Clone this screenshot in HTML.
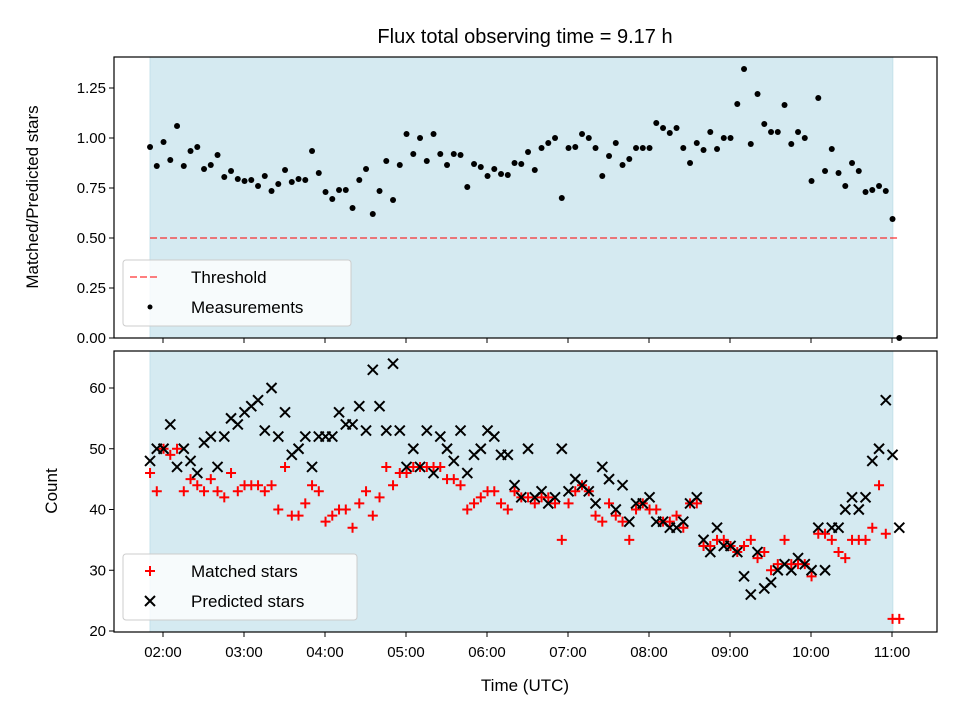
<!DOCTYPE html>
<html><head><meta charset="utf-8"><style>
body{margin:0;background:#fff;}
svg text{font-family:"Liberation Sans","DejaVu Sans",sans-serif;fill:#000;}
</style></head><body>
<svg id="chart" width="960" height="720" viewBox="0 0 960 720" xmlns="http://www.w3.org/2000/svg">
<rect width="960" height="720" fill="#fff"/>
<text x="525" y="43" font-size="20" text-anchor="middle">Flux total observing time = 9.17 h</text>
<g id="topPanel"></g>
<g id="botPanel"></g>
</svg>
<script>
const ratios=[0.955,0.86,0.98,0.89,1.06,0.86,0.935,0.955,0.845,0.865,0.915,0.805,0.835,0.795,0.785,0.79,0.76,0.81,0.735,0.77,0.84,0.78,0.795,0.79,0.935,0.825,0.73,0.695,0.74,0.74,0.65,0.79,0.845,0.62,0.735,0.885,0.69,0.865,1.02,
0.92,1.0,0.885,1.02,0.92,0.865,0.92,0.915,0.755,0.87,0.855,0.81,0.845,0.82,0.815,0.875,0.87,0.93,0.84,0.95,0.975,1.0,0.70,0.95,0.955,1.02,1.0,0.95,0.81,0.91,0.975,0.865,0.895,0.95,0.95,0.95,1.075,1.05,1.025,
1.05,0.95,0.875,0.975,0.94,1.03,0.945,1.0,1.0,1.17,1.345,0.97,1.22,1.07,1.03,1.03,1.165,0.97,1.03,1.0,0.785,1.2,0.835,0.945,0.825,0.76,0.875,0.835,0.73,0.74,0.76,0.735,0.595,0.0];
const matched=[46,43,50,49,50,43,45,44,43,45,43,42,46,43,44,44,44,43,44,40,47,39,39,41,44,43,38,39,40,40,37,41,43,39,42,47,44,46,46,47,47,47,47,47,45,45,44,40,41,42,43,43,41,40,43,42,42,41,42,42,41,35,41,43,44,43,39,38,41,39,38,35,40,41,40,40,38,38,39,37,41,41,34,34,35,35,34,33,34,35,32,33,30,31,35,31,31,31,29,36,36,35,33,32,35,35,35,37,44,36,22,22];
const predicted=[48,50,50,54,47,50,48,46,51,52,47,52,55,54,56,57,58,53,60,52,56,49,50,52,47,52,52,52,56,54,54,57,53,63,57,53,64,53,47,50,47,53,46,52,50,48,53,46,49,50,53,52,49,49,44,42,50,42,43,41,42,50,43,45,44,43,41,47,45,40,44,38,41,41,42,38,38,37,37,38,41,42,35,33,37,34,34,33,29,26,33,27,28,30,31,30,32,31,30,37,30,37,37,40,42,40,42,48,50,58,49,37];
const startHour=1.84, stepHour=5/60, threshold=0.5, obsStart=1.84, obsEnd=11.01;
const xTicks=["02:00","03:00","04:00","05:00","06:00","07:00","08:00","09:00","10:00","11:00"];
const xTickHours=[2,3,4,5,6,7,8,9,10,11];
const topTicks=[0,0.25,0.5,0.75,1.0,1.25];
const botTicks=[20,30,40,50,60];

const NS="http://www.w3.org/2000/svg";
const L=114,R=937;
const X=h=>163+(h-2)*81;
const Yt=v=>338-v*200;
const Yb=v=>631-(v-20)*6.075;
function mk(p,tag,a){const e=document.createElementNS(NS,tag);for(const k in a)e.setAttribute(k,a[k]);p.appendChild(e);return e;}
const topG=document.getElementById('topPanel'),botG=document.getElementById('botPanel');

function panel(g,y0,y1,ticks,Y,fmt,labels){
  const s=mk(g,'rect',{x:X(obsStart),y:y0,width:X(obsEnd)-X(obsStart),height:y1-y0,fill:'#d5eaf1',stroke:'#c4e1ea','stroke-width':1});
  
  
  ticks.forEach(t=>{const y=Y(t);mk(g,'line',{x1:L-5,x2:L,y1:y,y2:y,stroke:'#000','stroke-width':1});
    const tx=mk(g,'text',{x:L-8,y:y+5,'font-size':15,'text-anchor':'end'});tx.textContent=fmt(t);
    
    });
  xTickHours.forEach((h,i)=>{mk(g,'line',{x1:X(h),x2:X(h),y1:y1,y2:y1+5,stroke:'#000','stroke-width':1});
    if(labels){const tx=mk(g,'text',{x:X(h),y:y1+25,'font-size':15,'text-anchor':'middle'});tx.textContent=xTicks[i];
    
    }});
}
panel(topG,57,338,topTicks,Yt,v=>v.toFixed(2),false);
panel(botG,351,632,botTicks,Yb,v=>String(v),true);

const th=mk(topG,'line',{x1:X(obsStart),x2:X(startHour+stepHour*(ratios.length-1)),y1:Yt(threshold),y2:Yt(threshold),stroke:'#ff0000','stroke-opacity':0.5,'stroke-width':2,'stroke-dasharray':'7,3'});


ratios.forEach((v,i)=>{const c=mk(topG,'circle',{cx:X(startHour+i*stepHour),cy:Yt(v),r:3,fill:'#000'});
  
  });

function plus(g,x,y,s){return mk(g,'path',{d:`M${x-s},${y}H${x+s}M${x},${y-s}V${y+s}`,stroke:'#ff0000','stroke-width':2,fill:'none'});}
function cross(g,x,y,s){return mk(g,'path',{d:`M${x-s},${y-s}L${x+s},${y+s}M${x-s},${y+s}L${x+s},${y-s}`,stroke:'#000','stroke-width':2,fill:'none'});}
matched.forEach((v,i)=>{const p=plus(botG,X(startHour+i*stepHour),Yb(v),5);
  
  });
predicted.forEach((v,i)=>{const p=cross(botG,X(startHour+i*stepHour),Yb(v),5);
  
  });

mk(topG,'rect',{x:L,y:57,width:R-L,height:281,fill:'none',stroke:'#000','stroke-width':1.2});
mk(botG,'rect',{x:L,y:351,width:R-L,height:281,fill:'none',stroke:'#000','stroke-width':1.2});

function legend(g,y,items,name){const lg=mk(g,'g',{});
  
  
  mk(lg,'rect',{x:123,y:y,width:y>400?234:228,height:66,rx:3,fill:'#fff','fill-opacity':0.8,stroke:'#ccc'});
  items.forEach((it,k)=>{const cy=y+17+k*30;it[0](lg,150,cy);
    const t=mk(lg,'text',{x:191,y:cy+6,'font-size':17});t.textContent=it[1];
    
    });}
legend(topG,260,[[(g,x,y)=>mk(g,'line',{x1:x-20,x2:x+8,y1:y,y2:y,stroke:'#ff0000','stroke-opacity':0.5,'stroke-width':2,'stroke-dasharray':'7,3'}),'Threshold'],[(g,x,y)=>mk(g,'circle',{cx:x,cy:y,r:2.5,fill:'#000'}),'Measurements']],'top-legend');
legend(botG,554,[[(g,x,y)=>plus(g,x,y,5),'Matched stars'],[(g,x,y)=>cross(g,x,y,5),'Predicted stars']],'bottom-legend');
</script>
<div style="position:absolute;left:0;top:0;width:960px;height:720px;pointer-events:none">
<div style="position:absolute;left:33px;top:197px;transform:translate(-50%,-50%) rotate(-90deg);white-space:nowrap;font:17px 'Liberation Sans',sans-serif">Matched/Predicted stars</div>
<div style="position:absolute;left:52px;top:491px;transform:translate(-50%,-50%) rotate(-90deg);white-space:nowrap;font:17px 'Liberation Sans',sans-serif">Count</div>
<div style="position:absolute;left:525px;top:686px;transform:translate(-50%,-50%);white-space:nowrap;font:17px 'Liberation Sans',sans-serif">Time (UTC)</div>
</div>
</body></html>
